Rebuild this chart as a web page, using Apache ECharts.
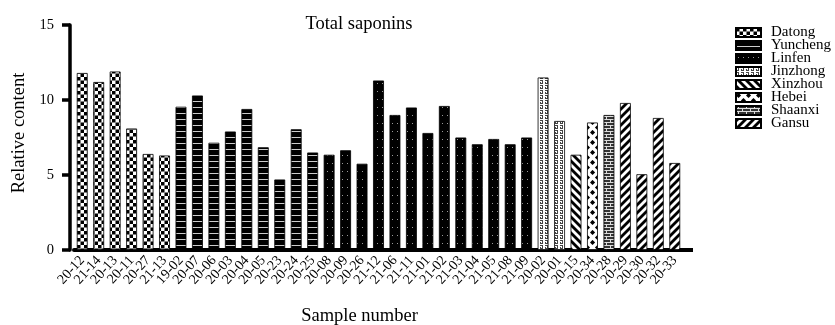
<!DOCTYPE html>
<html>
<head>
<meta charset="utf-8">
<script src="https://cdn.jsdelivr.net/npm/echarts@6/dist/echarts.min.js"></script>
<style>
  html, body { margin: 0; padding: 0; background: #fff; }
  #chart { width: 835px; height: 325px; }
</style>
</head>
<body>
<div id="chart"></div>
<script>
// sample numbers and relative content, one pair of arrays per region
const datongSamples = ['20-12', '21-14', '20-13', '20-11', '20-27', '21-13'];
const datongValues = [11.8, 11.2, 11.9, 8.1, 6.4, 6.3];
const yunchengSamples = ['19-02', '20-07', '20-06', '20-03', '20-04', '20-05', '20-23', '20-24', '20-25'];
const yunchengValues = [9.55, 10.3, 7.15, 7.9, 9.4, 6.85, 4.7, 8.05, 6.5];
const linfenSamples = ['20-08', '20-09', '20-26', '21-12', '21-06', '21-11', '21-01', '21-02', '21-03', '21-04', '21-05', '21-08', '21-09'];
const linfenValues = [6.35, 6.65, 5.75, 11.3, 9.0, 9.5, 7.8, 9.6, 7.5, 7.05, 7.4, 7.05, 7.5];
const jinzhongSamples = ['20-02', '20-01'];
const jinzhongValues = [11.5, 8.6];
const xinzhouSamples = ['20-15'];
const xinzhouValues = [6.35];
const hebeiSamples = ['20-34'];
const hebeiValues = [8.5];
const shaanxiSamples = ['20-28'];
const shaanxiValues = [9.0];
const gansuSamples = ['20-29', '20-30', '20-32', '20-33'];
const gansuValues = [9.8, 5.05, 8.8, 5.8];

const yTicks = [0, 5, 10, 15];

// pattern tiles
function tile(w, h, draw) {
    let c = document.createElement('canvas');
    c.width = w; c.height = h;
    let ctx = c.getContext('2d');
    draw(ctx, w, h);
    return { image: c, repeat: 'repeat' };
}
function stripes(w, dir, bw) {
    // diagonal stripes, dir 1 = "/" , -1 = "\"
    return tile(w, w, (ctx) => {
        ctx.fillStyle = '#fff'; ctx.fillRect(0, 0, w, w);
        ctx.fillStyle = '#000';
        for (let k = -1; k <= 1; k++) {
            ctx.beginPath();
            if (dir > 0) {
                ctx.moveTo(k * w, w); ctx.lineTo(k * w + bw, w);
                ctx.lineTo(k * w + bw + w, 0); ctx.lineTo(k * w + w, 0);
            } else {
                ctx.moveTo(k * w, 0); ctx.lineTo(k * w + bw, 0);
                ctx.lineTo(k * w + bw + w, w); ctx.lineTo(k * w + w, w);
            }
            ctx.closePath(); ctx.fill();
        }
    });
}
function diamond(ctx, cx, cy, r) {
    ctx.beginPath();
    ctx.moveTo(cx, cy - r); ctx.lineTo(cx + r, cy); ctx.lineTo(cx, cy + r); ctx.lineTo(cx - r, cy);
    ctx.closePath(); ctx.fill();
}
const patterns = {
    Datong: tile(7, 7, (ctx) => {
        ctx.fillStyle = '#fff'; ctx.fillRect(0, 0, 7, 7);
        ctx.fillStyle = '#000'; ctx.fillRect(0, 0, 3.5, 3.5); ctx.fillRect(3.5, 3.5, 3.5, 3.5);
    }),
    Yuncheng: tile(4, 6, (ctx) => {
        ctx.fillStyle = '#000'; ctx.fillRect(0, 0, 4, 6);
        ctx.fillStyle = '#ccc'; ctx.fillRect(0, 5, 4, 1);
    }),
    Linfen: tile(5, 8, (ctx) => {
        ctx.fillStyle = '#000'; ctx.fillRect(0, 0, 5, 8);
        ctx.fillStyle = '#999'; ctx.fillRect(2, 3, 1, 1);
    }),
    Jinzhong: tile(5, 5, (ctx) => {
        ctx.fillStyle = '#fff'; ctx.fillRect(0, 0, 5, 5);
        ctx.fillStyle = '#444'; ctx.fillRect(0, 0, 3, 1); ctx.fillRect(2, 1, 1, 2); ctx.fillRect(0, 2, 1, 2); ctx.fillRect(0, 3, 3, 1);
    }),
    Xinzhou: stripes(8, -1, 4),
    Hebei: tile(10, 10, (ctx) => {
        ctx.fillStyle = '#fff'; ctx.fillRect(0, 0, 10, 10);
        ctx.fillStyle = '#000';
        diamond(ctx, 2.5, 2.5, 2.6);
        diamond(ctx, 7.5, 7.5, 2.6);
    }),
    Shaanxi: tile(8, 6, (ctx) => {
        ctx.fillStyle = '#333'; ctx.fillRect(0, 0, 8, 6);
        ctx.fillStyle = '#ddd';
        ctx.fillRect(0, 2, 8, 1); ctx.fillRect(0, 5, 8, 1);
        ctx.fillRect(2, 0, 1, 2); ctx.fillRect(6, 3, 1, 2);
    }),
    Gansu: stripes(8, 1, 4)
};

const groups = [
    { name: 'Datong', samples: datongSamples, values: datongValues },
    { name: 'Yuncheng', samples: yunchengSamples, values: yunchengValues },
    { name: 'Linfen', samples: linfenSamples, values: linfenValues },
    { name: 'Jinzhong', samples: jinzhongSamples, values: jinzhongValues },
    { name: 'Xinzhou', samples: xinzhouSamples, values: xinzhouValues },
    { name: 'Hebei', samples: hebeiSamples, values: hebeiValues },
    { name: 'Shaanxi', samples: shaanxiSamples, values: shaanxiValues },
    { name: 'Gansu', samples: gansuSamples, values: gansuValues }
];

let categories = [];
groups.forEach(g => { categories = categories.concat(g.samples); });

const series = groups.map(g => {
    let data = categories.map(c => {
        let i = g.samples.indexOf(c);
        return i >= 0 ? g.values[i] : null;
    });
    return {
        name: g.name,
        type: 'bar',
        stack: 'all',
        barCategoryGap: '34%',
        itemStyle: { color: patterns[g.name], borderColor: '#000', borderWidth: 0.8 },
        data: data
    };
});

const font = 'Liberation Serif';
const gridLeft = 74, gridRight = 152, gridBottom = 75;

let myChart = echarts.init(document.getElementById('chart'), null, { renderer: 'canvas' });
myChart.setOption({
    animation: false,
    backgroundColor: '#fff',
    textStyle: { fontFamily: font, color: '#000' },
    title: {
        text: 'Total saponins',
        left: 354, top: 10,
        textAlign: 'center',
        textStyle: { fontFamily: font, fontSize: 18.5, fontWeight: 'normal', color: '#000' }
    },
    legend: {
        orient: 'vertical',
        left: 735, top: 25,
        padding: 0,
        itemGap: -2,
        itemWidth: 25, itemHeight: 9,
        icon: 'rect',
        textStyle: { fontFamily: font, fontSize: 15, color: '#000', padding: [0, 0, 0, 5] },
        data: groups.map(g => g.name)
    },
    grid: { left: gridLeft, right: gridRight, top: 25, bottom: gridBottom, outerBoundsMode: 'none' },
    xAxis: {
        type: 'category',
        data: categories,
        name: 'Sample number',
        nameLocation: 'middle',
        nameGap: 57,
        nameTextStyle: { fontFamily: font, fontSize: 18.5, color: '#000', padding: [0, 38, 0, 0] },
        axisLine: { lineStyle: { color: '#000', width: 4 } },
        axisTick: { show: false },
        axisLabel: { interval: 0, rotate: 48, margin: 8, fontFamily: font, fontSize: 14, color: '#000' }
    },
    yAxis: {
        type: 'value',
        min: yTicks[0], max: yTicks[yTicks.length - 1], interval: 5,
        offset: 4,
        name: 'Relative content',
        nameLocation: 'middle',
        nameGap: 41,
        nameTextStyle: { fontFamily: font, fontSize: 18.5, color: '#000', padding: [0, 0, 0, 9] },
        axisLine: { show: true, lineStyle: { color: '#000', width: 3.5 } },
        axisTick: { show: true, length: 8, lineStyle: { color: '#000', width: 3.5 } },
        axisLabel: { margin: 16, fontFamily: font, fontSize: 14.5, color: '#000' },
        splitLine: { show: false }
    },
    graphic: [{
        // x axis line runs past the last bar in the original figure
        type: 'rect',
        shape: { x: 835 - gridRight - 2, y: 325 - gridBottom - 2, width: 12, height: 4 },
        style: { fill: '#000' }
    }],
    series: series
});
</script>
</body>
</html>
